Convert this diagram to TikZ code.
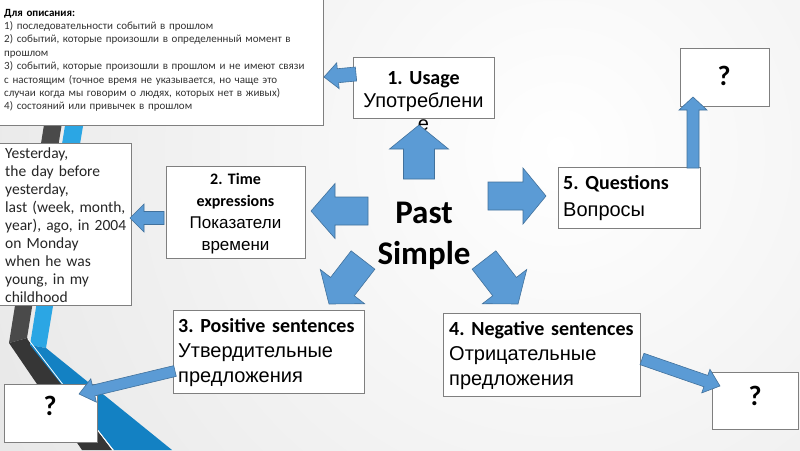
\documentclass[tikz,border=0pt]{standalone}
\usepackage{fontspec}
\setmainfont{Carlito}
\newfontfamily\arialf{Liberation Sans}
\usetikzlibrary{calc}
\frenchspacing
\definecolor{arrblue}{HTML}{5B9BD5}
\definecolor{arredge}{HTML}{41719C}
\definecolor{boxgray}{HTML}{7F7F7F}
\definecolor{bggray}{HTML}{DEDEDE}
\definecolor{stripedark}{HTML}{4A4A4A}
\definecolor{stripedarker}{HTML}{363636}
\definecolor{stripelight}{HTML}{2BA6E4}
\definecolor{stripeblue}{HTML}{1381C3}
\newcommand\blockarrow[5]{%
  \path ($(#2)!#5!(#1)$) coordinate (bam);
  \filldraw[blockarr] ($(#1)!#3!90:(#2)$) -- ($(bam)!#3!90:(#2)$) -- ($(bam)!#4!90:(#2)$) -- (#2)
    -- ($(bam)!#4!-90:(#2)$) -- ($(bam)!#3!-90:(#2)$) -- ($(#1)!#3!-90:(#2)$) -- cycle;}
\begin{document}
\begin{tikzpicture}[x=1pt,y=-1pt,
  box/.style={draw=boxgray, fill=white, line width=0.8pt, inner sep=0pt, anchor=north west},
  blockarr/.style={fill=arrblue, draw=arredge, line width=0.6pt, line join=miter},
  txtl/.style={inner sep=0pt, anchor=base west, align=left},
  txtc/.style={inner sep=0pt, anchor=base, align=center},
  qmark/.style={inner sep=0pt, font=\bfseries\fontsize{28}{30}\selectfont}]
\useasboundingbox (0,0) rectangle (800,450);
% background
\fill[bggray] (0,0) rectangle (800,450);
\begin{scope}
  \clip (0,0) rectangle (800,450);
  \shade[inner color=white, outer color=bggray] (560,150) circle (900pt);
\end{scope}
% left stripes
\fill[stripedark] (64,0) -- (82,0) -- (27,338) -- (9,343) -- cycle;
\fill[stripedarker] (9,343) -- (27,338) -- (112,450) -- (82,450) -- cycle;
\fill[stripelight] (85,0) -- (104,0) -- (46,348) -- (30,345) -- cycle;
\fill[stripeblue] (30,345) -- (46,348) -- (172,450) -- (114,450) -- cycle;
\draw[white, line width=0.8pt] (28,339) -- (113,450);
% boxes
\node[box, minimum width=324pt, minimum height=126pt] (desc) at (-1,-1) {};
\node[box, minimum width=132pt, minimum height=162pt] (yest) at (-1,143) {};
\node[box, minimum width=141pt, minimum height=61pt] (b1) at (353,57) {};
\node[box, minimum width=139pt, minimum height=92pt] (b2) at (166,166) {};
\node[box, minimum width=142pt, minimum height=61pt] (b5) at (558,167) {};
\node[box, minimum width=89pt, minimum height=58pt] (q1) at (680,48) {};
\node[box, minimum width=191pt, minimum height=83pt] (b3) at (173,310) {};
\node[box, minimum width=197pt, minimum height=83pt] (b4) at (443,313) {};
\node[box, minimum width=93pt, minimum height=58pt] (q2) at (4,384) {};
\node[box, minimum width=86pt, minimum height=57pt] (q3) at (712,372) {};
% texts
\node[txtl, text width=318pt, text=black!80, font=\fontsize{11}{13.4}\selectfont] (desct) at (4,16)
  {{\color{black}\textbf{Для описания:}}\\
   1) последовательности событий в прошлом\\
   2) событий, которые произошли в определенный момент в\\
   прошлом\\
   3) событий, которые произошли в прошлом и не имеют связи\\
   с настоящим (точное время не указывается, но чаще это\\
   случаи когда мы говорим о людях, которых нет в живых)\\
   4) состояний или привычек в прошлом};
\node[txtl, text width=128pt, text=black!85, font=\fontsize{15.5}{18}\selectfont] (yestt) at (5,158)
  {Yesterday,\\ the day before\\ yesterday,\\ last (week, month,\\ year), ago, in 2004\\ on Monday\\ when he was\\ young, in my\\ childhood};
\node[txtc, text width=141pt, font=\fontsize{20}{23}\selectfont] (b1t) at (423.5,84)
  {\textbf{1. Usage}\\{\arialf Употреблени}\\{\arialf е}};
\node[txtc, text width=139pt, font=\fontsize{16}{22}\selectfont] (b2t) at (235.5,184)
  {\textbf{2. Time}\\\textbf{expressions}\\{\arialf\fontsize{17}{22}\selectfont Показатели}\\{\arialf\fontsize{17}{22}\selectfont времени}};
\node[txtl, text width=138pt, font=\fontsize{20}{27}\selectfont] (b5t) at (563,189)
  {\textbf{5. Questions}\\{\arialf Вопросы}};
\node[txtl, text width=188pt, font=\fontsize{20}{25}\selectfont] (b3t) at (178,332)
  {\textbf{3. Positive sentences}\\{\arialf Утвердительные}\\{\arialf предложения}};
\node[txtl, text width=194pt, font=\fontsize{20}{25}\selectfont] (b4t) at (449,335)
  {\textbf{4. Negative sentences}\\{\arialf Отрицательные}\\{\arialf предложения}};
\node[txtc, text width=150pt, font=\bfseries\fontsize{33}{41}\selectfont] (ps) at (424,223) {Past\\Simple};
\node[qmark] (q1t) at (724,76) {?};
\node[qmark] (q2t) at (50,406) {?};
\node[qmark] (q3t) at (755,396) {?};
% arrow end points
\coordinate (aus) at (419,179); \coordinate (aue) at (419,125);
\coordinate (als) at (368,211); \coordinate (ale) at (311,211);
\coordinate (ars) at (488,196); \coordinate (are) at (546,196);
\coordinate (adls) at (363,260); \coordinate (adle) at (329,304);
\coordinate (adrs) at (484,260); \coordinate (adre) at (518,304);
\coordinate (a1s) at (356,74); \coordinate (a1e) at (324,77);
\coordinate (a2s) at (164,218); \coordinate (a2e) at (130,218);
\coordinate (a5s) at (693,168); \coordinate (a5e) at (693,97);
\coordinate (a3s) at (175,371); \coordinate (a3e) at (79,394);
\coordinate (a4s) at (642,359); \coordinate (a4e) at (720,386);
% arrows
\blockarrow{aus}{aue}{15.5pt}{29.5pt}{24pt}
\blockarrow{als}{ale}{14pt}{27.5pt}{24pt}
\blockarrow{ars}{are}{14pt}{28pt}{23pt}
\blockarrow{adls}{adle}{15pt}{28pt}{22pt}
\blockarrow{adrs}{adre}{15pt}{28pt}{22pt}
\blockarrow{a1s}{a1e}{7pt}{13pt}{14pt}
\blockarrow{a2s}{a2e}{6.5pt}{14pt}{14pt}
\blockarrow{a5s}{a5e}{6pt}{14pt}{13pt}
\blockarrow{a3s}{a3e}{5.5pt}{12pt}{15pt}
\blockarrow{a4s}{a4e}{6pt}{12.5pt}{15pt}
\end{tikzpicture}
\end{document}
